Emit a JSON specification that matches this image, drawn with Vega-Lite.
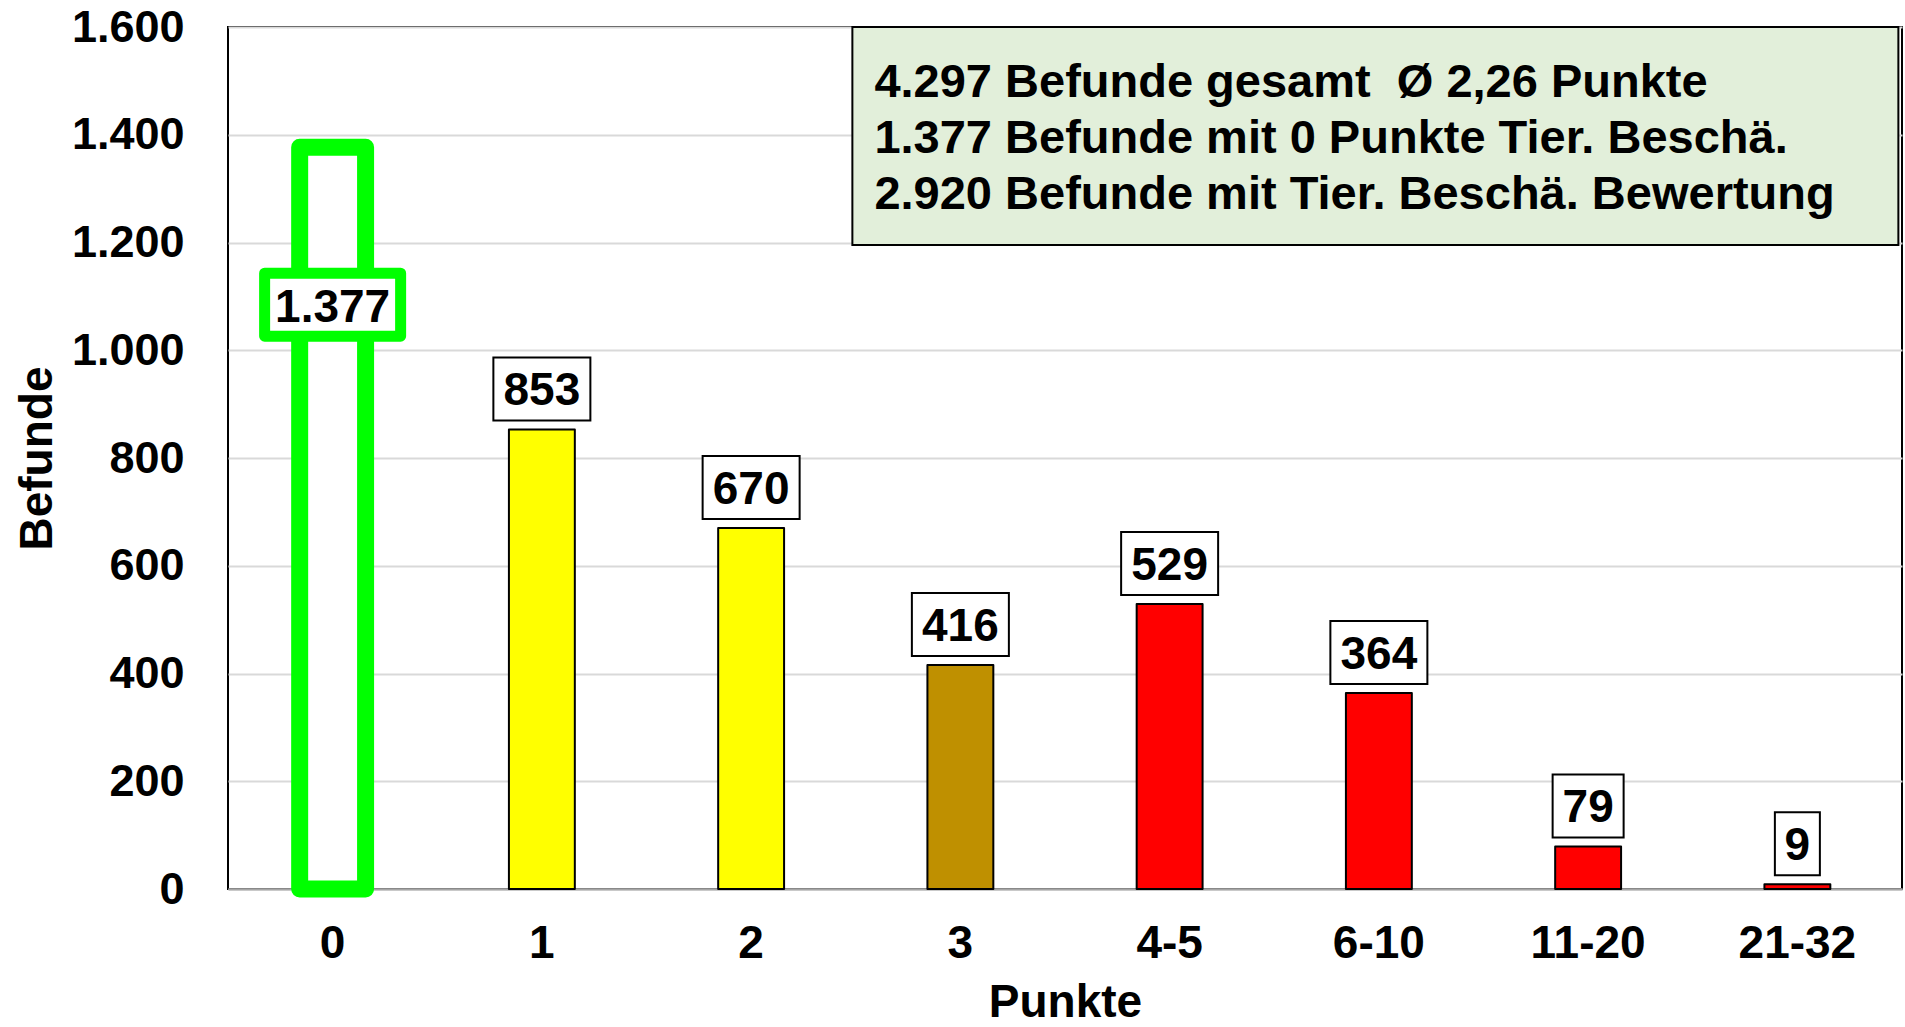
{
  "$schema": "https://vega.github.io/schema/vega-lite/v6.json",
  "autosize": {"type": "none"},
  "padding": {"left": 228, "top": 27, "right": 3, "bottom": 138},
  "width": 1674,
  "height": 862,
  "background": "white",
  "config": {
    "locale": {"number": {"decimal": ",", "thousands": ".", "grouping": [3], "currency": ["", " €"]}},
    "font": "Liberation Sans",
    "view": {"stroke": "#000000", "strokeWidth": 2}
  },
  "data": {
    "values": [
      {"Punkte": "0", "Befunde": 1377},
      {"Punkte": "1", "Befunde": 853},
      {"Punkte": "2", "Befunde": 670},
      {"Punkte": "3", "Befunde": 416},
      {"Punkte": "4-5", "Befunde": 529},
      {"Punkte": "6-10", "Befunde": 364},
      {"Punkte": "11-20", "Befunde": 79},
      {"Punkte": "21-32", "Befunde": 9}
    ]
  },
  "layer": [
    {
      "mark": {"type": "bar", "strokeJoin": "round", "opacity": 1},
      "encoding": {
        "x": {
          "field": "Punkte", "type": "nominal", "sort": null,
          "scale": {"paddingInner": 0.685, "paddingOuter": 0.3425},
          "axis": {
            "title": "Punkte", "labelAngle": 0, "labelPadding": 32, "ticks": false, "tickSize": 0,
            "domainColor": "#A6A6A6", "domainWidth": 2, "grid": false,
            "labelFontSize": 46, "labelFontWeight": "bold", "labelColor": "#000000", "labelFont": "Liberation Sans",
            "titleFontSize": 46, "titleFontWeight": "bold", "titleColor": "#000000", "titleFont": "Liberation Sans",
            "titlePadding": 14
          }
        },
        "y": {
          "field": "Befunde", "type": "quantitative",
          "scale": {"domain": [0, 1600], "nice": false},
          "axis": {
            "title": "Befunde", "values": [0, 200, 400, 600, 800, 1000, 1200, 1400, 1600], "format": ",.0f",
            "labelPadding": 44, "ticks": false, "tickSize": 0, "domain": false,
            "grid": true, "gridColor": "#D9D9D9", "gridWidth": 2,
            "labelFontSize": 45, "labelFontWeight": "bold", "labelColor": "#000000", "labelFont": "Liberation Sans",
            "titleFontSize": 46, "titleFontWeight": "bold", "titleColor": "#000000", "titleFont": "Liberation Sans",
            "titlePadding": 10
          }
        },
        "color": {
          "field": "Punkte", "type": "nominal",
          "scale": {
            "domain": ["0", "1", "2", "3", "4-5", "6-10", "11-20", "21-32"],
            "range": ["#FFFFFF", "#FFFF00", "#FFFF00", "#BF9000", "#FF0000", "#FF0000", "#FF0000", "#FF0000"]
          },
          "legend": null
        },
        "stroke": {"condition": {"test": "datum.Punkte === '0'", "value": "#00FF00"}, "value": "#000000"},
        "strokeWidth": {"condition": {"test": "datum.Punkte === '0'", "value": 17}, "value": 2}
      }
    },
    {
      "transform": [{"filter": "datum.Punkte !== '0'"}],
      "mark": {"type": "point", "filled": true, "fill": "#FFFFFF", "stroke": "#000000", "strokeWidth": 2, "opacity": 1, "size": 4, "yOffset": -40.5},
      "encoding": {
        "x": {"field": "Punkte", "type": "nominal", "sort": null},
        "y": {"field": "Befunde", "type": "quantitative"},
        "shape": {
          "condition": [
            {"test": "datum.Befunde < 10", "value": "M-22.5,-31.5L22.5,-31.5L22.5,31.5L-22.5,31.5Z"},
            {"test": "datum.Befunde < 100", "value": "M-35.5,-31.5L35.5,-31.5L35.5,31.5L-35.5,31.5Z"}
          ],
          "value": "M-48.5,-31.5L48.5,-31.5L48.5,31.5L-48.5,31.5Z"
        }
      }
    },
    {
      "transform": [{"filter": "datum.Punkte === '0'"}],
      "mark": {"type": "point", "filled": true, "fill": "#FFFFFF", "stroke": "#00FF00", "strokeWidth": 11, "strokeJoin": "round", "opacity": 1, "size": 4, "yOffset": 157.5,
               "shape": "M-68,-31.5L68,-31.5L68,31.5L-68,31.5Z"},
      "encoding": {
        "x": {"field": "Punkte", "type": "nominal", "sort": null},
        "y": {"field": "Befunde", "type": "quantitative"}
      }
    },
    {
      "transform": [{"filter": "datum.Punkte !== '0'"}],
      "mark": {"type": "text", "font": "Liberation Sans", "fontSize": 46, "fontWeight": "bold", "color": "#000000", "baseline": "middle", "align": "center", "yOffset": -38},
      "encoding": {
        "x": {"field": "Punkte", "type": "nominal", "sort": null},
        "y": {"field": "Befunde", "type": "quantitative"},
        "text": {"field": "Befunde", "type": "quantitative", "format": ",.0f"}
      }
    },
    {
      "transform": [{"filter": "datum.Punkte === '0'"}],
      "mark": {"type": "text", "font": "Liberation Sans", "fontSize": 46, "fontWeight": "bold", "color": "#000000", "baseline": "middle", "align": "center", "yOffset": 160.5},
      "encoding": {
        "x": {"field": "Punkte", "type": "nominal", "sort": null},
        "y": {"field": "Befunde", "type": "quantitative"},
        "text": {"field": "Befunde", "type": "quantitative", "format": ",.0f"}
      }
    },
    {
      "data": {"values": [{}]},
      "mark": {"type": "point", "filled": true, "fill": "#E2EFDA", "stroke": "#000000", "strokeWidth": 2, "opacity": 1, "size": 4,
               "shape": "M-108,0L938,0L938,218L-108,218Z"},
      "encoding": {
        "x": {"datum": "3", "type": "nominal"},
        "y": {"datum": 1600, "type": "quantitative"}
      }
    },
    {
      "data": {"values": [{}]},
      "mark": {"type": "text", "font": "Liberation Sans", "fontSize": 47, "fontWeight": "bold", "color": "#000000",
               "align": "left", "baseline": "alphabetic", "dx": -86, "dy": 70, "lineHeight": 56,
               "text": ["4.297 Befunde gesamt \u00a0Ø 2,26 Punkte", "1.377 Befunde mit 0 Punkte Tier. Beschä.", "2.920 Befunde mit Tier. Beschä. Bewertung"]},
      "encoding": {
        "x": {"datum": "3", "type": "nominal"},
        "y": {"datum": 1600, "type": "quantitative"}
      }
    }
  ]
}
